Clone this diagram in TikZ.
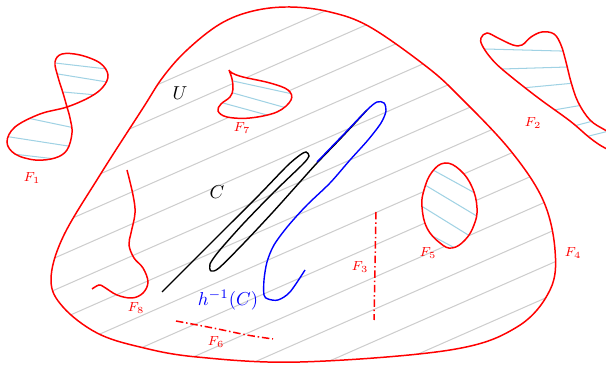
\documentclass[tikz,border=0pt]{standalone}
\usetikzlibrary{calc}
\definecolor{hatchblue}{RGB}{160,210,228}
\definecolor{hatchgray}{RGB}{205,205,205}
\tikzset{
  region/.style={red, line width=0.8pt},
  hatchline/.style={hatchblue, line width=0.55pt, shorten <=-5pt, shorten >=-5pt},
  grayline/.style={hatchgray, line width=0.55pt},
  flabel/.style={red, font=\scriptsize, inner sep=1pt},
  ddline/.style={red, line width=0.8pt, dash pattern=on 4pt off 1.5pt on 0.8pt off 1.5pt},
  curveC/.style={black, line width=0.75pt},
  curveH/.style={blue, line width=0.75pt},
}
\begin{document}
\begin{tikzpicture}[x=0.535pt,y=-0.535pt]
\useasboundingbox (0,0) rectangle (606,367);
\clip (0,0) rectangle (606,367);

% ---- gray hatching inside U
\begin{scope}
  \clip plot[smooth cycle, tension=0.6] coordinates {(290,7) (253,11) (220,24) (187,50) (163,77) (143,108) (100,175) (63,237) (51,280) (63,307) (97,333) (140,347) (197,357) (300,362) (450,350) (517,327) (550,290) (555,250) (543,200) (510,150) (460,97) (427,67) (370,27) (330,12)};
  \foreach \k in {0,...,12}{
    \draw[grayline] (0,{154+32*\k}) -- (620,{154+32*\k-0.44*620});
  }
\end{scope}

% ---- F7
\fill[white] plot[smooth, tension=0.6] coordinates {(229,70) (232,73) (243,77) (270,83) (288,90) (291,100) (277,112) (250,118) (227,117) (218,111) (221,104) (230,97) (233,89) (232,79) (229,70)};
\begin{scope}
  \clip plot[smooth, tension=0.6] coordinates {(229,70) (232,73) (243,77) (270,83) (288,90) (291,100) (277,112) (250,118) (227,117) (218,111) (221,104) (230,97) (233,89) (232,79) (229,70)};
  \draw[hatchline] (233,81) -- (288,93);
  \draw[hatchline] (233,93) -- (283,107);
  \draw[hatchline] (223,103) -- (267,115);
\end{scope}
\draw[region] plot[smooth, tension=0.6] coordinates {(229,70) (232,73) (243,77) (270,83) (288,90) (291,100) (277,112) (250,118) (227,117) (218,111) (221,104) (230,97) (233,89) (232,79) (229,70)};

% ---- F5
\fill[white] plot[smooth cycle, tension=0.7] coordinates {(445,163) (432,172) (424,190) (422,207) (427,228) (440,243) (452,248) (465,240) (474,225) (477,208) (472,187) (460,170)};
\begin{scope}
  \clip plot[smooth cycle, tension=0.7] coordinates {(445,163) (432,172) (424,190) (422,207) (427,228) (440,243) (452,248) (465,240) (474,225) (477,208) (472,187) (460,170)};
  \draw[hatchline] (433,170) -- (473,192);
  \draw[hatchline] (425,185) -- (475,215);
  \draw[hatchline] (423,207) -- (465,233);
  \draw[hatchline] (425,232) -- (453,247);
\end{scope}
\draw[region] plot[smooth cycle, tension=0.7] coordinates {(445,163) (432,172) (424,190) (422,207) (427,228) (440,243) (452,248) (465,240) (474,225) (477,208) (472,187) (460,170)};

% ---- U boundary
\draw[region] plot[smooth cycle, tension=0.6] coordinates {(290,7) (253,11) (220,24) (187,50) (163,77) (143,108) (100,175) (63,237) (51,280) (63,307) (97,333) (140,347) (197,357) (300,362) (450,350) (517,327) (550,290) (555,250) (543,200) (510,150) (460,97) (427,67) (370,27) (330,12)};

% ---- F1 (figure eight)
\begin{scope}
  \clip plot[smooth cycle, tension=0.6] coordinates {(67,107) (63,93) (58,77) (55,62) (62,54) (80,55) (100,63) (108,75) (103,87) (90,97) (67,107) (40,114) (15,127) (7,142) (15,154) (35,160) (55,158) (67,150) (72,133) (70,118)};
  \draw[hatchline] (55,63) -- (107,69);
  \draw[hatchline] (58,74) -- (107,82);
  \draw[hatchline] (63,92) -- (97,95);
  \draw[hatchline] (32,119) -- (70,127);
  \draw[hatchline] (10,137) -- (68,146);
  \draw[hatchline] (13,154) -- (47,158);
\end{scope}
\draw[region] plot[smooth cycle, tension=0.6] coordinates {(67,107) (63,93) (58,77) (55,62) (62,54) (80,55) (100,63) (108,75) (103,87) (90,97) (67,107) (40,114) (15,127) (7,142) (15,154) (35,160) (55,158) (67,150) (72,133) (70,118)};

% ---- F2
\begin{scope}
  \clip plot[smooth cycle, tension=0.6] coordinates {(487,33) (498,38) (513,45) (522,45) (531,37) (542,32) (554,34) (561,45) (566,62) (571,82) (578,102) (590,120) (605,130) (620,138) (618,152) (605,148) (590,138) (570,121) (537,97) (503,70) (490,57) (482,45) (481,38)};
  \draw[hatchline] (485,49) -- (560,51);
  \draw[hatchline] (502,69) -- (568,67);
  \draw[hatchline] (522,88) -- (575,83);
  \draw[hatchline] (548,111) -- (583,105);
  \draw[hatchline] (570,127) -- (597,120);
  \draw[hatchline] (585,137) -- (605,132);
\end{scope}
\draw[region] plot[smooth cycle, tension=0.6] coordinates {(487,33) (498,38) (513,45) (522,45) (531,37) (542,32) (554,34) (561,45) (566,62) (571,82) (578,102) (590,120) (605,130) (620,138) (618,152) (605,148) (590,138) (570,121) (537,97) (503,70) (490,57) (482,45) (481,38)};

% ---- F8
\draw[region] plot[smooth, tension=0.6] coordinates {(127,170) (133,195) (135,213) (131,233) (129,245) (134,258) (143,268) (148,282) (143,293) (132,298) (117,295) (104,287) (99,285) (92,289)};

% ---- F3, F6
\draw[ddline] (376,212) -- (374,320);
\draw[ddline] plot[smooth] coordinates {(176,321) (213,328) (247,335) (273,339)};

% ---- C
\draw[curveC] plot[smooth, tension=0.45] coordinates {(162,292) (195,259) (228,226) (260,194) (287,166) (300,155) (306,152) (309,156) (303,164) (274,192) (243,224) (219,251) (210,264) (211,271) (219,268) (244,243) (273,212) (299,183) (317,163) (342,137) (367,110)};

% ---- h^{-1}(C)
\draw[curveH] plot[smooth, tension=0.5] coordinates {(317,162) (345,133) (367,110) (377,102) (384,103) (386,111) (381,123) (368,140) (350,160) (330,183) (307,205) (288,226) (274,245) (267,262) (264,280) (264,295) (268,299) (278,300) (290,292) (305,270)};

% ---- labels
\node[flabel] (f1) at (32,178) {$F_1$};
\node[flabel] (f2) at (533,123) {$F_2$};
\node[flabel] (f3) at (360,267) {$F_3$};
\node[flabel] (f4) at (573,253) {$F_4$};
\node[flabel] (f5) at (428,253) {$F_5$};
\node[flabel] (f6) at (216,342) {$F_6$};
\node[flabel] (f7) at (242,128) {$F_7$};
\node[flabel] (f8) at (136,308) {$F_8$};
\node (u) at (180,93) {$U$};
\node (c) at (217,192) {$C$};
\node[blue] (h) at (228,300) {$h^{-1}(C)$};
\end{tikzpicture}
\end{document}
